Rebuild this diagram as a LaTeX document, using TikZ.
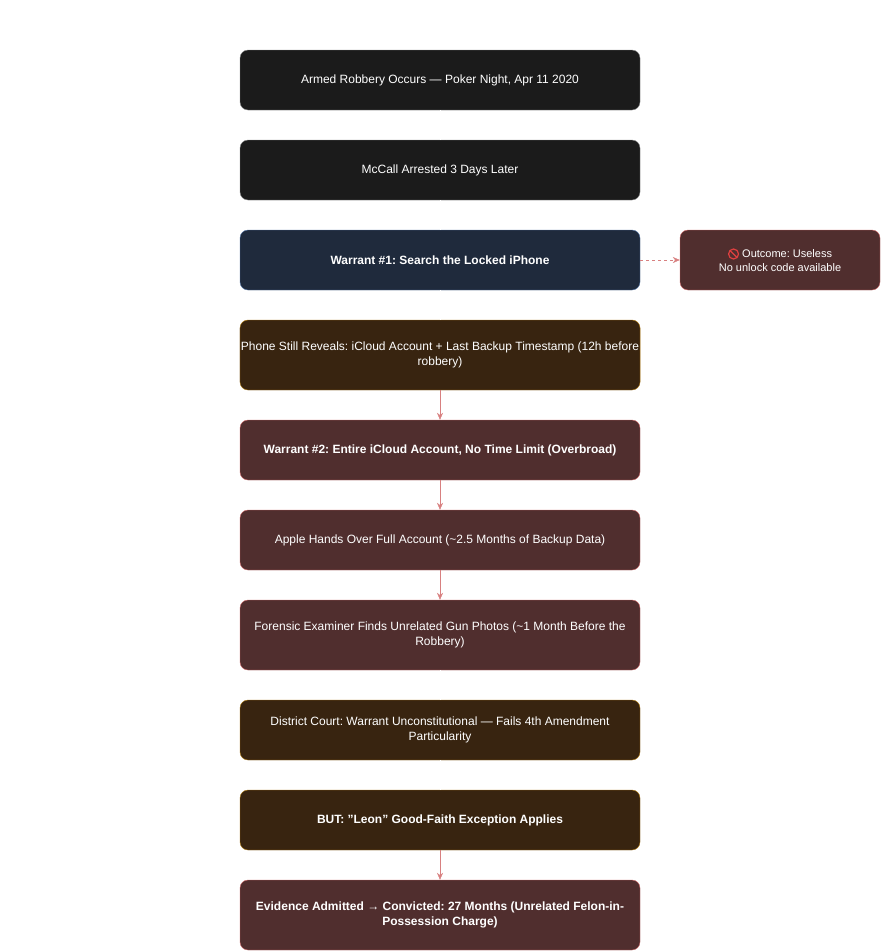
\documentclass[tikz,border=0pt]{standalone}
\usepackage{fontspec}
\defaultfontfeatures{}
\setmainfont{Liberation Sans}
\frenchspacing
\usetikzlibrary{arrows.meta}
\definecolor{dk}{HTML}{1B1B1B}\definecolor{dkb}{HTML}{8A8A8A}
\definecolor{nv}{HTML}{1F2A3C}\definecolor{nvb}{HTML}{5878A8}
\definecolor{br}{HTML}{382410}\definecolor{brb}{HTML}{B07A10}
\definecolor{rd}{HTML}{502E2E}\definecolor{rdb}{HTML}{D06A6A}
\definecolor{ar}{HTML}{D88080}
\definecolor{emo}{HTML}{E04040}
\newcommand{\noemo}{\tikz[baseline=-3.5pt,x=1pt,y=1pt]{\draw[emo,line width=1.2pt](0,0) circle(5pt);\draw[emo,line width=1.2pt](-3.5pt,3.5pt)--(3.5pt,-3.5pt);}}
\begin{document}
\begin{tikzpicture}[x=1pt,y=-1pt,
 box/.style={draw,rounded corners=8pt,minimum width=400pt,align=center,text=white,font=\fontsize{12}{15}\selectfont,inner sep=1pt},
 k/.style={box,fill=dk,draw=dkb},
 n/.style={box,fill=nv,draw=nvb},
 b/.style={box,fill=br,draw=brb},
 r/.style={box,fill=rd,draw=rdb},
 a/.style={draw=ar,-{Stealth[length=7pt,width=6pt]}},
 w/.style={draw=white}]
\useasboundingbox (0,0) rectangle (881,951);
\node[k,minimum height=60pt] (n1) at (440,80) {Armed Robbery Occurs — Poker Night, Apr 11 2020};
\node[k,minimum height=60pt] (n2) at (440,170) {McCall Arrested 3 Days Later};
\node[n,minimum height=60pt] (n3) at (440,260) {\bfseries Warrant \#1: Search the Locked iPhone};
\node[b,minimum height=70pt] (n4) at (440,355) {Phone Still Reveals: iCloud Account + Last Backup Timestamp (12h before\\robbery)};
\node[r,minimum height=60pt] (n5) at (440,450) {\bfseries Warrant \#2: Entire iCloud Account, No Time Limit (Overbroad)};
\node[r,minimum height=60pt] (n6) at (440,540) {Apple Hands Over Full Account (\textasciitilde2.5 Months of Backup Data)};
\node[r,minimum height=70pt] (n7) at (440,635) {Forensic Examiner Finds Unrelated Gun Photos (\textasciitilde1 Month Before the\\Robbery)};
\node[b,minimum height=60pt] (n8) at (440,730) {District Court: Warrant Unconstitutional — Fails 4th Amendment\\Particularity};
\node[b,minimum height=60pt] (n9) at (440,820) {\bfseries BUT: "Leon" Good-Faith Exception Applies};
\node[r,minimum height=70pt] (n10) at (440,915) {\bfseries Evidence Admitted → Convicted: 27 Months (Unrelated Felon-in-\\\bfseries Possession Charge)};
\node[r,minimum width=200pt,minimum height=60pt,font=\fontsize{11}{14}\selectfont] (s) at (780,260) {\noemo\ Outcome: Useless\\No unlock code available};
\draw[w] (n1)--(n2); \draw[w] (n2)--(n3); \draw[w] (n3)--(n4);
\draw[w] (n7)--(n8); \draw[w] (n8)--(n9);
\draw[a] (n4)--(n5); \draw[a] (n5)--(n6); \draw[a] (n6)--(n7); \draw[a] (n9)--(n10);
\draw[a,dashed] (n3)--(s);
\end{tikzpicture}
\end{document}
